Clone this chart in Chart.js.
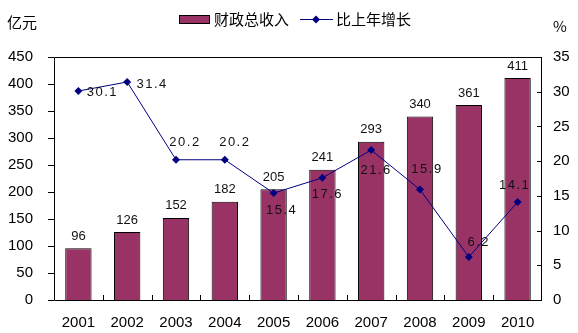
<!DOCTYPE html>
<html>
<head>
<meta charset="utf-8">
<script src="https://cdn.jsdelivr.net/npm/chart.js@4"></script>
<style>
  html, body { margin: 0; padding: 0; background: #fff; }
  #wrap { width: 578px; height: 333px; }
</style>
</head>
<body>
<div id="wrap"><canvas id="c" width="578" height="333"></canvas></div>
<script>
// Fiscal revenue (亿元) and year-on-year growth (%), 2001–2010
const years = ['2001', '2002', '2003', '2004', '2005', '2006', '2007', '2008', '2009', '2010'];
const revenue = [96, 126, 152, 182, 205, 241, 293, 340, 361, 411];
const growth = [30.1, 31.4, 20.2, 20.2, 15.4, 17.6, 21.6, 15.9, 6.2, 14.1];
const leftTicks = [0, 50, 100, 150, 200, 250, 300, 350, 400, 450];
const rightTicks = [0, 5, 10, 15, 20, 25, 30, 35];

// where each growth label sits relative to its point (dx, dy)
const growthLabelShift = [[24, 1], [25, 2], [9, -17], [10, -17], [8, 17], [5, 17], [5, 20], [7, -20], [10, -15], [-3, -17]];

const BAR = '#993366';
const LINE = '#000080';
const NUM_FONT = '"Liberation Sans", Arial, sans-serif';
const CJK_FONT = '"Noto Sans CJK SC", "Noto Sans", sans-serif';

const frame = {
  id: 'frame',
  afterDatasetsDraw(chart) {
    const { ctx, chartArea: a, scales } = chart;
    ctx.save();
    ctx.strokeStyle = '#000';
    ctx.lineWidth = 1;
    ctx.beginPath();
    ctx.rect(Math.round(a.left) + 0.5, Math.round(a.top) + 0.5,
             Math.round(a.right - a.left) - 1, Math.round(a.bottom - a.top));
    // left axis ticks (outward)
    leftTicks.forEach(v => {
      const y = Math.round(scales.y.getPixelForValue(v)) + 0.5;
      ctx.moveTo(a.left - 6, y); ctx.lineTo(a.left, y);
    });
    // right axis ticks (inward)
    rightTicks.forEach(v => {
      const y = Math.round(scales.y1.getPixelForValue(v)) + 0.5;
      ctx.moveTo(a.right - 5, y); ctx.lineTo(a.right, y);
    });
    // category dividers on the base line
    const step = (a.right - a.left) / years.length;
    for (let i = 1; i < years.length; i++) {
      const x = Math.round(a.left + i * step) + 0.5;
      ctx.moveTo(x, a.bottom); ctx.lineTo(x, a.bottom - 5);
    }
    ctx.stroke();

    // value labels
    ctx.fillStyle = '#111';
    ctx.textAlign = 'center';
    ctx.textBaseline = 'middle';
    ctx.font = '13px ' + NUM_FONT;
    const barMeta = chart.getDatasetMeta(0);
    barMeta.data.forEach((el, i) => {
      ctx.fillText(String(revenue[i]), el.x, el.y - 12);
    });
    const lineMeta = chart.getDatasetMeta(1);
    ctx.letterSpacing = '1.5px';
    lineMeta.data.forEach((el, i) => {
      const [dx, dy] = growthLabelShift[i];
      ctx.fillText(growth[i].toFixed(1), el.x + dx, el.y + dy);
    });
    ctx.letterSpacing = '0px';
    ctx.restore();
  },
  afterDraw(chart) {
    const { ctx } = chart;
    ctx.save();
    ctx.fillStyle = '#000';
    ctx.textBaseline = 'middle';
    ctx.textAlign = 'left';
    ctx.font = '15px ' + CJK_FONT;
    ctx.fillText('亿元', 7, 22);
    ctx.fillText('%', 553, 26);

    // legend
    ctx.fillStyle = BAR;
    ctx.fillRect(179.5, 15.5, 30, 8);
    ctx.strokeStyle = '#000';
    ctx.lineWidth = 1;
    ctx.strokeRect(179.5, 15.5, 30, 8);
    ctx.fillStyle = '#000';
    ctx.fillText('财政总收入', 214, 19);

    ctx.strokeStyle = LINE;
    ctx.beginPath();
    ctx.moveTo(300, 19.5); ctx.lineTo(333, 19.5);
    ctx.stroke();
    ctx.fillStyle = LINE;
    ctx.beginPath();
    ctx.moveTo(316, 15.5); ctx.lineTo(320, 19.5); ctx.lineTo(316, 23.5); ctx.lineTo(312, 19.5);
    ctx.closePath();
    ctx.fill();
    ctx.fillStyle = '#000';
    ctx.fillText('比上年增长', 336, 19);
    ctx.restore();
  }
};

new Chart(document.getElementById('c'), {
  data: {
    labels: years,
    datasets: [
      {
        type: 'bar',
        label: '财政总收入',
        data: revenue,
        yAxisID: 'y',
        backgroundColor: BAR,
        borderColor: '#000',
        borderWidth: 1,
        barPercentage: 0.54,
        categoryPercentage: 1,
        order: 1
      },
      {
        type: 'line',
        label: '比上年增长',
        data: growth,
        yAxisID: 'y1',
        borderColor: LINE,
        borderWidth: 1,
        backgroundColor: LINE,
        pointStyle: 'rectRot',
        pointRadius: 4,
        pointBorderWidth: 0,
        pointBackgroundColor: LINE,
        tension: 0,
        order: 0
      }
    ]
  },
  options: {
    responsive: false,
    animation: false,
    devicePixelRatio: 1,
    layout: { padding: { top: 57, left: 0, right: 0, bottom: 0 } },
    plugins: { legend: { display: false }, tooltip: { enabled: false }, title: { display: false } },
    scales: {
      x: {
        type: 'category',
        offset: true,
        grid: { display: false, drawTicks: false },
        border: { display: false },
        ticks: { color: '#000', font: { family: NUM_FONT, size: 15 }, padding: 14, maxRotation: 0, autoSkip: false },
        afterFit(s) { s.height = 33; }
      },
      y: {
        position: 'left',
        min: 0, max: 450,
        afterBuildTicks(s) { s.ticks = leftTicks.map(v => ({ value: v })); },
        grid: { display: false, drawTicks: false },
        border: { display: false },
        ticks: { color: '#000', font: { family: NUM_FONT, size: 15 }, padding: 21 },
        afterFit(s) { s.width = 54; }
      },
      y1: {
        position: 'right',
        min: 0, max: 35,
        afterBuildTicks(s) { s.ticks = rightTicks.map(v => ({ value: v })); },
        grid: { display: false, drawTicks: false },
        border: { display: false },
        ticks: { color: '#000', font: { family: NUM_FONT, size: 15 }, padding: 11 },
        afterFit(s) { s.width = 36; }
      }
    }
  },
  plugins: [frame]
});
</script>
</body>
</html>
